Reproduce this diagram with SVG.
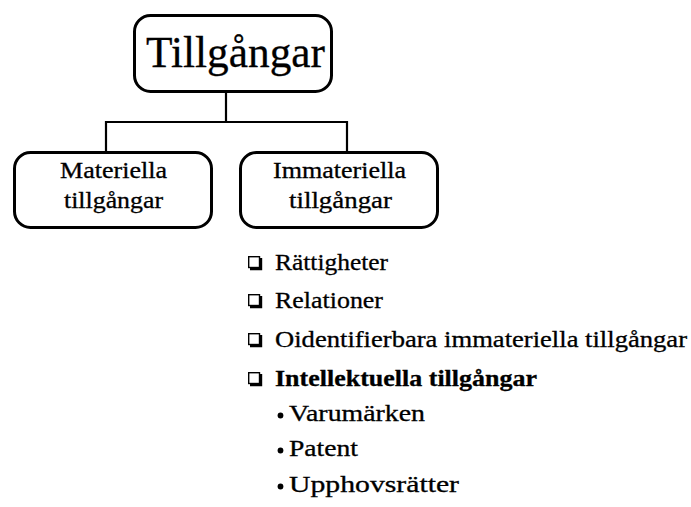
<svg xmlns="http://www.w3.org/2000/svg" width="691" height="507" viewBox="0 0 691 507">
<style>
.box{fill:#fff;stroke:#000;stroke-width:3}
.conn{fill:none;stroke:#000;stroke-width:2.2}
.t{font-family:"Liberation Serif","Times New Roman",serif;fill:#000;stroke:#000;stroke-width:0.3}
.lbl{font-size:23px;text-anchor:middle}
.li{font-size:23px}
.cb{fill:#fff;stroke:#000;stroke-width:1.4}
.sh{fill:#000}
</style>
<defs>
<g id="chk">
<path class="sh" d="M2 11.5H14.2V14.2H2ZM11.5 2H14.2V14.2H11.5Z"/>
<rect x="0.7" y="0.7" width="10.8" height="10.8" class="cb"/>
</g>
</defs>
<rect width="691" height="507" fill="#fff"/>
<g id="connectors">
<path class="conn" d="M226 92V122M106 122H347M106 121V152M347 121V152"/>
</g>
<g id="n-root">
<rect class="box" x="134.5" y="15.5" width="197" height="76" rx="16"/>
<text class="t" x="235.5" y="67" font-size="45" text-anchor="middle" textLength="179" lengthAdjust="spacingAndGlyphs">Tillgångar</text>
</g>
<g id="n-materiella">
<rect class="box" x="14.5" y="152.5" width="197" height="75" rx="16"/>
<text class="t lbl" x="113.5" y="178" textLength="107" lengthAdjust="spacingAndGlyphs">Materiella</text>
<text class="t lbl" x="113.5" y="208" textLength="99" lengthAdjust="spacingAndGlyphs">tillgångar</text>
</g>
<g id="n-immateriella">
<rect class="box" x="240.5" y="152.5" width="197" height="75" rx="16"/>
<text class="t lbl" x="339.5" y="178" textLength="133" lengthAdjust="spacingAndGlyphs">Immateriella</text>
<text class="t lbl" x="340.5" y="208" textLength="103" lengthAdjust="spacingAndGlyphs">tillgångar</text>
</g>
<g id="list">
<use href="#chk" x="248" y="256"/>
<text class="t li" x="275" y="270" textLength="113" lengthAdjust="spacingAndGlyphs">Rättigheter</text>
<use href="#chk" x="248" y="294"/>
<text class="t li" x="275" y="308" textLength="108" lengthAdjust="spacingAndGlyphs">Relationer</text>
<use href="#chk" x="248" y="333"/>
<text class="t li" x="275" y="347" textLength="412" lengthAdjust="spacingAndGlyphs">Oidentifierbara immateriella tillgångar</text>
<use href="#chk" x="248" y="372"/>
<text class="t li" x="275" y="386" font-weight="bold" textLength="262" lengthAdjust="spacingAndGlyphs">Intellektuella tillgångar</text>
<circle cx="280.5" cy="415.5" r="2.9"/>
<text class="t li" x="289" y="421" textLength="136" lengthAdjust="spacingAndGlyphs">Varumärken</text>
<circle cx="280.5" cy="450.5" r="2.9"/>
<text class="t li" x="289" y="456" textLength="69" lengthAdjust="spacingAndGlyphs">Patent</text>
<circle cx="280.5" cy="486.5" r="2.9"/>
<text class="t li" x="289" y="492" textLength="170" lengthAdjust="spacingAndGlyphs">Upphovsrätter</text>
</g>
</svg>
